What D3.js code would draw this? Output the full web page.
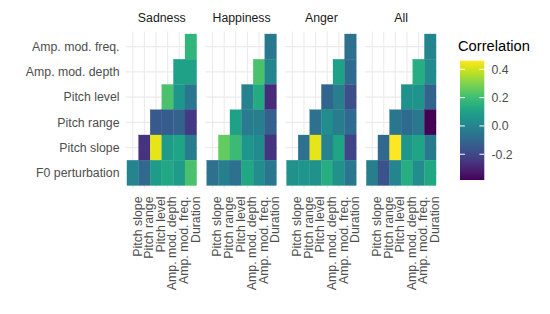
<!DOCTYPE html>
<html>
<head>
<meta charset="utf-8">
<script src="https://d3js.org/d3.v7.min.js"></script>
<style>
  body { margin: 0; background: #fff; }
  text { font-family: "Liberation Sans", Arial, sans-serif; }
</style>
</head>
<body>
<div id="my_dataviz"></div>
<script>
// categories
var facets = ["Sadness", "Happiness", "Anger", "All"];
var xVars = ["Pitch slope", "Pitch range", "Pitch level", "Amp. mod. depth", "Amp. mod. freq.", "Duration"];
var yVars = ["Amp. mod. freq.", "Amp. mod. depth", "Pitch level", "Pitch range", "Pitch slope", "F0 perturbation"];
var legendTicks = [0.4, 0.2, 0.0, -0.2];
var colorLimits = [-0.382, 0.461];

// lower triangle values per row (row i of yVars fills the last i+1 x columns)
var sadness = [
  [0.17],
  [0.10, 0.10],
  [0.22, 0.06, -0.05],
  [-0.15, -0.14, -0.12, -0.24],
  [-0.26, 0.43, 0.08, 0.11, -0.03],
  [0.00, -0.10, 0.08, 0.12, 0.08, 0.22]
];
var happiness = [
  [-0.045],
  [0.22, 0.00],
  [-0.01, 0.13, -0.28],
  [0.10, -0.03, -0.02, -0.13],
  [0.26, 0.19, 0.06, 0.02, -0.26],
  [-0.07, -0.02, -0.07, 0.12, 0.03, -0.05]
];
var anger = [
  [-0.07],
  [0.10, -0.09],
  [-0.11, -0.02, -0.18],
  [-0.07, 0.03, -0.03, -0.09],
  [-0.07, 0.43, -0.01, 0.11, -0.21],
  [0.04, 0.06, 0.04, 0.14, 0.04, -0.05]
];
var all = [
  [0.00],
  [0.14, 0.02],
  [0.04, 0.05, -0.12],
  [-0.05, -0.09, -0.045, -0.38],
  [-0.10, 0.46, 0.06, 0.11, -0.04],
  [-0.02, -0.17, 0.00, 0.14, 0.03, 0.12]
];
var facetValues = [sadness, happiness, anger, all];

// set the dimensions of the page and panels
var width = 550, height = 314;
var panelW = 72, panelStep = 79.8, panelLeft = 125.8;
var panelTop = 31.5, panelH = 156.5;
var padX = 1.16, padY = 2.5;

var svg = d3.select("#my_dataviz")
  .append("svg")
    .attr("width", width)
    .attr("height", height);

var x = d3.scaleBand()
  .domain(xVars)
  .range([padX, panelW - padX]);

var y = d3.scaleBand()
  .domain(yVars)
  .range([panelTop + padY, panelTop + panelH - padY]);

var color = d3.scaleSequential(d3.interpolateViridis)
  .domain(colorLimits);

// Y axis labels
svg.append("g")
  .selectAll("text")
  .data(yVars)
  .enter()
  .append("text")
    .attr("x", 119.5)
    .attr("y", function(d) { return y(d) + y.bandwidth() / 2; })
    .attr("dy", "0.35em")
    .attr("text-anchor", "end")
    .attr("fill", "#4d4d4d")
    .style("font-size", "12.3px")
    .text(function(d) { return d; });

facets.forEach(function(name, fi) {
  var g = svg.append("g")
    .attr("transform", "translate(" + (panelLeft + fi * panelStep) + ",0)");

  // grid lines
  g.selectAll("vgrid")
    .data(xVars)
    .enter()
    .append("line")
      .attr("x1", function(d) { return x(d) + x.bandwidth() / 2; })
      .attr("x2", function(d) { return x(d) + x.bandwidth() / 2; })
      .attr("y1", panelTop)
      .attr("y2", panelTop + panelH)
      .attr("stroke", "#ebebeb")
      .attr("stroke-width", 1.07);
  g.selectAll("hgrid")
    .data(yVars)
    .enter()
    .append("line")
      .attr("x1", 0)
      .attr("x2", panelW)
      .attr("y1", function(d) { return y(d) + y.bandwidth() / 2; })
      .attr("y2", function(d) { return y(d) + y.bandwidth() / 2; })
      .attr("stroke", "#ebebeb")
      .attr("stroke-width", 1.07);

  // tiles
  var cells = [];
  facetValues[fi].forEach(function(row, ri) {
    var offset = xVars.length - row.length;
    row.forEach(function(v, ci) {
      cells.push({ row: yVars[ri], col: xVars[offset + ci], value: v });
    });
  });
  g.selectAll("tile")
    .data(cells)
    .enter()
    .append("rect")
      .attr("x", function(d) { return x(d.col); })
      .attr("y", function(d) { return y(d.row); })
      .attr("width", x.bandwidth())
      .attr("height", y.bandwidth())
      .attr("fill", function(d) { return color(d.value); })
      .attr("stroke", function(d) { return color(d.value); })
      .attr("stroke-width", 0.3);

  // strip title
  g.append("text")
    .attr("x", panelW / 2)
    .attr("y", 22)
    .attr("text-anchor", "middle")
    .attr("fill", "#1a1a1a")
    .style("font-size", "12.3px")
    .text(name);

  // X axis labels, rotated
  g.selectAll("xlab")
    .data(xVars)
    .enter()
    .append("text")
      .attr("transform", function(d) {
        return "translate(" + (x(d) + x.bandwidth() / 2 + 8.8) + ",196.5)rotate(-90)";
      })
      .attr("text-anchor", "end")
      .attr("fill", "#4d4d4d")
      .style("font-size", "12.3px")
      .text(function(d) { return d; });
});

// Legend
var barX = 460, barY = 60.7, barW = 24.3, barH = 119.3;
var defs = svg.append("defs");
var grad = defs.append("linearGradient")
  .attr("id", "corr-grad")
  .attr("x1", "0%").attr("x2", "0%")
  .attr("y1", "100%").attr("y2", "0%");
d3.range(0, 1.0001, 0.05).forEach(function(t) {
  grad.append("stop")
    .attr("offset", (t * 100) + "%")
    .attr("stop-color", d3.interpolateViridis(t));
});

svg.append("text")
  .attr("x", 458)
  .attr("y", 51)
  .attr("fill", "#000")
  .style("font-size", "14.7px")
  .text("Correlation");

svg.append("rect")
  .attr("x", barX)
  .attr("y", barY)
  .attr("width", barW)
  .attr("height", barH)
  .attr("fill", "url(#corr-grad)");

var ly = d3.scaleLinear()
  .domain(colorLimits)
  .range([barY + barH, barY]);

var lt = svg.append("g").selectAll("g")
  .data(legendTicks)
  .enter()
  .append("g");
lt.append("line")
  .attr("x1", barX).attr("x2", barX + 4.9)
  .attr("y1", function(d) { return ly(d); })
  .attr("y2", function(d) { return ly(d); })
  .attr("stroke", "#fff").attr("stroke-width", 1);
lt.append("line")
  .attr("x1", barX + barW - 4.9).attr("x2", barX + barW)
  .attr("y1", function(d) { return ly(d); })
  .attr("y2", function(d) { return ly(d); })
  .attr("stroke", "#fff").attr("stroke-width", 1);
lt.append("text")
  .attr("x", 491.5)
  .attr("y", function(d) { return ly(d); })
  .attr("dy", "0.35em")
  .attr("fill", "#4d4d4d")
  .style("font-size", "12.3px")
  .text(function(d) { return d.toFixed(1); });
</script>
</body>
</html>
